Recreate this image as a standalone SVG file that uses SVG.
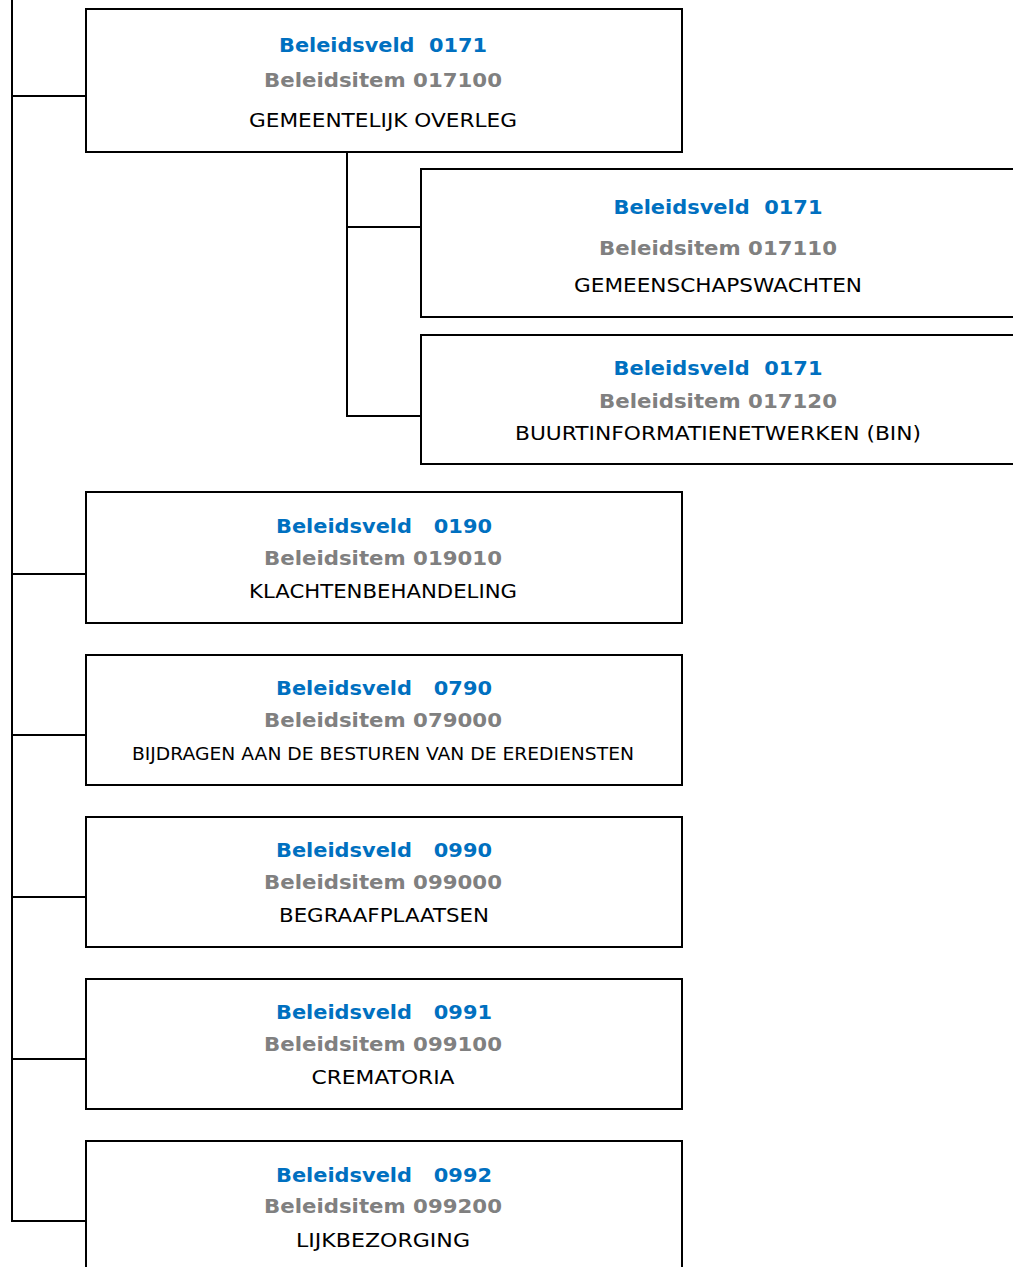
<svg xmlns="http://www.w3.org/2000/svg" width="1013" height="1267" viewBox="0 0 1013 1267">
<style>
.box{fill:#fff;stroke:#000;stroke-width:2}
.ln{stroke:#000;stroke-width:2;fill:none}
text{font-family:"DejaVu Sans","Liberation Sans",sans-serif;text-anchor:middle;white-space:pre}
.v{fill:#0070C0;font-weight:bold;font-size:19px}
.i{fill:#808080;font-weight:bold;font-size:19px}
.t{fill:#000;font-size:20px}
.s{fill:#000;font-size:17px}
</style>
<rect width="1013" height="1267" fill="#fff"/>
<g id="connectors">
<path class="ln" d="M12 0V1222M12 96H86M12 574H86M12 735H86M12 897H86M12 1059H86M12 1221H86M347 152V416H421M347 227H421"/>
</g>
<g id="n1"><rect class="box" x="86" y="9" width="596" height="143"/>
<text class="v" x="383" y="52" textLength="208" lengthAdjust="spacingAndGlyphs" xml:space="preserve">Beleidsveld  0171</text>
<text class="i" x="383" y="87" textLength="238" lengthAdjust="spacingAndGlyphs">Beleidsitem 017100</text>
<text class="t" x="383" y="127" textLength="268" lengthAdjust="spacingAndGlyphs">GEMEENTELIJK OVERLEG</text></g>
<g id="n2"><rect class="box" x="421" y="169" width="600" height="148"/>
<text class="v" x="718" y="214" textLength="209" lengthAdjust="spacingAndGlyphs" xml:space="preserve">Beleidsveld  0171</text>
<text class="i" x="718" y="255" textLength="238" lengthAdjust="spacingAndGlyphs">Beleidsitem 017110</text>
<text class="t" x="718" y="292" textLength="288" lengthAdjust="spacingAndGlyphs">GEMEENSCHAPSWACHTEN</text></g>
<g id="n3"><rect class="box" x="421" y="335" width="600" height="129"/>
<text class="v" x="718" y="375" textLength="209" lengthAdjust="spacingAndGlyphs" xml:space="preserve">Beleidsveld  0171</text>
<text class="i" x="718" y="408" textLength="238" lengthAdjust="spacingAndGlyphs">Beleidsitem 017120</text>
<text class="t" x="718" y="440" textLength="406" lengthAdjust="spacingAndGlyphs">BUURTINFORMATIENETWERKEN (BIN)</text></g>
<g id="n4"><rect class="box" x="86" y="492" width="596" height="131"/>
<text class="v" x="384" y="533" textLength="216" lengthAdjust="spacingAndGlyphs" xml:space="preserve">Beleidsveld   0190</text>
<text class="i" x="383" y="565" textLength="238" lengthAdjust="spacingAndGlyphs">Beleidsitem 019010</text>
<text class="t" x="383" y="598" textLength="268" lengthAdjust="spacingAndGlyphs">KLACHTENBEHANDELING</text></g>
<g id="n5"><rect class="box" x="86" y="655" width="596" height="130"/>
<text class="v" x="384" y="695" textLength="216" lengthAdjust="spacingAndGlyphs" xml:space="preserve">Beleidsveld   0790</text>
<text class="i" x="383" y="727" textLength="238" lengthAdjust="spacingAndGlyphs">Beleidsitem 079000</text>
<text class="s" x="383" y="760" textLength="502" lengthAdjust="spacingAndGlyphs">BIJDRAGEN AAN DE BESTUREN VAN DE EREDIENSTEN</text></g>
<g id="n6"><rect class="box" x="86" y="817" width="596" height="130"/>
<text class="v" x="384" y="857" textLength="216" lengthAdjust="spacingAndGlyphs" xml:space="preserve">Beleidsveld   0990</text>
<text class="i" x="383" y="889" textLength="238" lengthAdjust="spacingAndGlyphs">Beleidsitem 099000</text>
<text class="t" x="384" y="922" textLength="210" lengthAdjust="spacingAndGlyphs">BEGRAAFPLAATSEN</text></g>
<g id="n7"><rect class="box" x="86" y="979" width="596" height="130"/>
<text class="v" x="384" y="1019" textLength="216" lengthAdjust="spacingAndGlyphs" xml:space="preserve">Beleidsveld   0991</text>
<text class="i" x="383" y="1051" textLength="238" lengthAdjust="spacingAndGlyphs">Beleidsitem 099100</text>
<text class="t" x="383" y="1084" textLength="143" lengthAdjust="spacingAndGlyphs">CREMATORIA</text></g>
<g id="n8"><rect class="box" x="86" y="1141" width="596" height="140"/>
<text class="v" x="384" y="1182" textLength="216" lengthAdjust="spacingAndGlyphs" xml:space="preserve">Beleidsveld   0992</text>
<text class="i" x="383" y="1213" textLength="238" lengthAdjust="spacingAndGlyphs">Beleidsitem 099200</text>
<text class="t" x="383" y="1247" textLength="174" lengthAdjust="spacingAndGlyphs">LIJKBEZORGING</text></g>
</svg>
